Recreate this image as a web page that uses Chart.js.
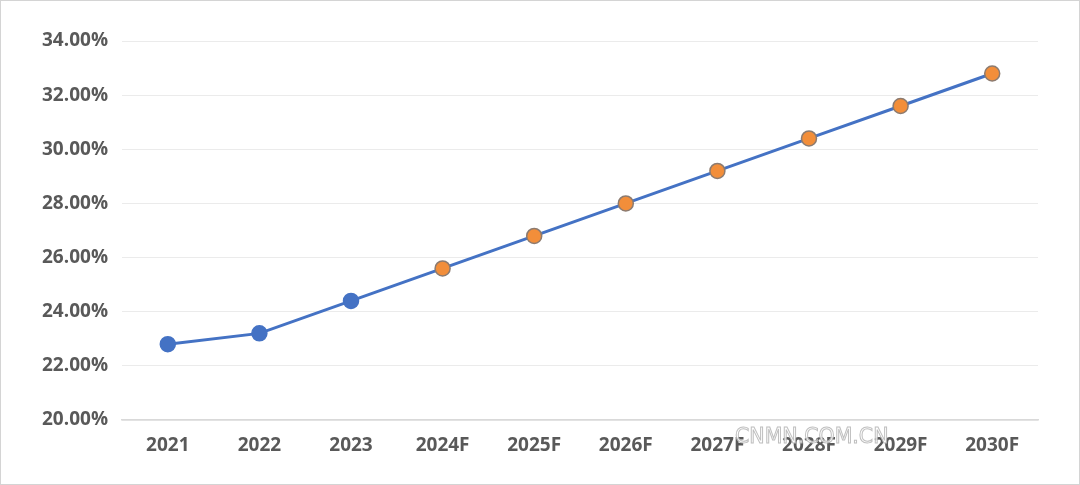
<!DOCTYPE html>
<html>
<head>
<meta charset="utf-8">
<script src="https://cdn.jsdelivr.net/npm/chart.js@4/dist/chart.umd.min.js"></script>
<style>
  html, body { margin: 0; padding: 0; background: #fff; }
  #wrap { position: relative; width: 1080px; height: 485px; }
  #mark {
    position: absolute; left: 735px; top: 424px;
    font: 20.5px "DejaVu Sans", sans-serif; color: #fff;
    -webkit-text-stroke: 1px #b8b8b8;
    opacity: 0.9; pointer-events: none;
  }
</style>
</head>
<body>
<div id="wrap">
  <canvas id="chart" width="1080" height="485"></canvas>
  <div id="mark">CNMN.COM.CN</div>
</div>
<script>
const years = ['2021', '2022', '2023', '2024F', '2025F', '2026F', '2027F', '2028F', '2029F', '2030F'];
const share = [22.8, 23.2, 24.4, 25.6, 26.8, 28.0, 29.2, 30.4, 31.6, 32.8];
const yTicks = [20, 22, 24, 26, 28, 30, 32, 34];

const blue = '#4472c4';
const orange = '#f28e3a';

// forecast years get the orange markers
const fill = years.map(y => y.endsWith('F') ? orange : blue);
const edge = years.map(y => y.endsWith('F') ? '#8c7b70' : blue);

const frame = {
    id: 'frame',
    beforeDraw(c) {
        const ctx = c.ctx;
        ctx.save();
        ctx.fillStyle = '#fff';
        ctx.fillRect(0, 0, c.width, c.height);
        ctx.strokeStyle = '#d4d4d4';
        ctx.lineWidth = 1;
        ctx.strokeRect(0.5, 0.5, c.width - 1, c.height - 1);
        ctx.restore();
    }
};

const font = { family: '"Open Sans", "Noto Sans", sans-serif', size: 19, weight: 'bold' };

new Chart(document.getElementById('chart'), {
    type: 'line',
    data: {
        labels: years,
        datasets: [{
            data: share,
            borderColor: blue,
            borderWidth: 3,
            pointRadius: 7.5,
            pointHoverRadius: 7.5,
            pointBackgroundColor: fill,
            pointBorderColor: edge,
            pointBorderWidth: 1.5,
            tension: 0
        }]
    },
    options: {
        responsive: false,
        animation: false,
        layout: { padding: { top: 41, right: 42, bottom: 0, left: 0 } },
        plugins: { legend: { display: false }, tooltip: { enabled: false } },
        scales: {
            x: {
                offset: true,
                grid: { display: false, drawTicks: false },
                border: { color: '#d9d9d9', width: 1.5 },
                ticks: { color: '#595959', font: font, padding: 14, maxRotation: 0 },
                afterFit(s) { s.height = 65; }
            },
            y: {
                min: yTicks[0],
                max: yTicks[yTicks.length - 1],
                afterBuildTicks(s) { s.ticks = yTicks.map(v => ({ value: v })); },
                grid: { color: '#ebebeb', drawTicks: false },
                border: { display: false },
                ticks: {
                    color: '#595959', font: font, padding: 14,
                    callback: v => v.toFixed(2) + '%'
                },
                afterFit(s) { s.width = 122; }
            }
        }
    },
    plugins: [frame]
});
</script>
</body>
</html>
